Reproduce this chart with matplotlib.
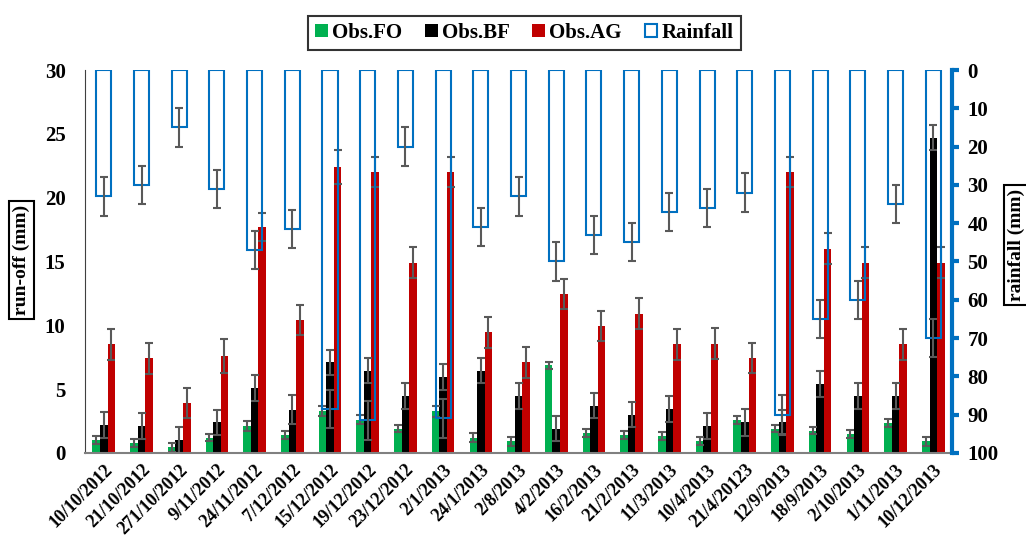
import numpy as np
import matplotlib
matplotlib.use("Agg")
import matplotlib.pyplot as plt

# data
dates = ['10/10/2012', '21/10/2012', '271/10/2012', '9/11/2012', '24/11/2012',
         '7/12/2012', '15/12/2012', '19/12/2012', '23/12/2012', '2/1/2013',
         '24/1/2013', '2/8/2013', '4/2/2013', '16/2/2013', '21/2/2013',
         '11/3/2013', '10/4/2013', '21/4/20123', '12/9/2013', '18/9/2013',
         '2/10/2013', '1/11/2013', '10/12/2013']

obs_fo = [1.0, 0.8, 0.45, 1.2, 2.1, 1.4, 3.3, 2.6, 1.9, 3.25, 1.2, 0.9,
          6.85, 1.55, 1.4, 1.35, 0.95, 2.6, 1.9, 1.75, 1.5, 2.35, 0.9]
obs_bf = [2.2, 2.1, 1.0, 2.4, 5.1, 3.4, 7.1, 6.45, 4.45, 5.95, 6.45, 4.45,
          1.9, 3.7, 3.0, 3.45, 2.1, 2.4, 2.4, 5.4, 4.45, 4.45, 24.7]
obs_ag = [8.5, 7.4, 3.9, 7.6, 17.7, 10.4, 22.4, 22.0, 14.9, 22.0, 9.45, 7.1,
          12.45, 9.95, 10.9, 8.5, 8.55, 7.45, 22.0, 16.0, 14.9, 8.5, 14.9]
rain = [33, 30, 15, 31, 47, 41.5, 88.5, 91.5, 20, 91, 41, 33,
        50, 43, 45, 37, 36, 32, 90, 65, 60, 35, 70]

# error bars
fo_err = [0.3, 0.3, 0.35, 0.3, 0.4, 0.3, 0.4, 0.35, 0.3, 0.4, 0.35, 0.35,
          0.3, 0.3, 0.3, 0.3, 0.3, 0.3, 0.3, 0.3, 0.3, 0.3, 0.35]
bf_err = [1.0, 1.0, 1.0, 1.0, 1.0, 1.1, 1.0, 1.0, 1.0, 1.0, 1.0, 1.0,
          1.0, 1.0, 1.0, 1.0, 1.0, 1.05, 1.0, 1.05, 1.0, 1.0, 1.0]
ag_err = [1.2, 1.2, 1.15, 1.3, 1.1, 1.2, 1.3, 1.2, 1.2, 1.2, 1.2, 1.2,
          1.15, 1.2, 1.2, 1.2, 1.2, 1.2, 1.2, 1.2, 1.2, 1.2, 1.2]
rain_err = [5] * len(rain)

plt.rcParams['font.family'] = ['Liberation Serif', 'DejaVu Serif']
plt.rcParams['font.weight'] = 'bold'

green = '#00B050'
red = '#C00000'
blue = '#0070C0'
errc = '#595959'

x = np.arange(len(dates))
w = 0.2
ekw = dict(ecolor=errc, elinewidth=1.5, capsize=3, capthick=1.5)

fig = plt.figure(figsize=(10.26, 5.47), dpi=100)
ax = fig.add_axes([0.0828, 0.172, 0.8452, 0.700])

b1 = ax.bar(x - w, obs_fo, w, color=green, yerr=fo_err, error_kw=ekw, label='Obs.FO')
b2 = ax.bar(x, obs_bf, w, color='black', yerr=bf_err, error_kw=ekw, label='Obs.BF')
b3 = ax.bar(x + w, obs_ag, w, color=red, yerr=ag_err, error_kw=ekw, label='Obs.AG')

ax.set_xlim(-0.5, len(dates) - 0.5)
ax.set_ylim(0, 30)
ax.set_yticks([0, 5, 10, 15, 20, 25, 30])
ax.set_xticks(x)
ax.set_xticklabels(dates, rotation=45, ha='right', rotation_mode='anchor',
                   fontsize=13, fontweight='bold')
ax.tick_params(axis='both', length=0, labelsize=15)
ax.tick_params(axis='x', pad=6, labelsize=13)
ax.tick_params(axis='y', pad=14)
for s in ['top', 'right']:
    ax.spines[s].set_visible(False)
ax.spines['left'].set_color('#404040')
ax.spines['bottom'].set_color('#808080')
ax.spines['bottom'].set_linewidth(1.5)

ax.set_ylabel('run-off (mm)', fontsize=14, fontweight='bold',
              bbox=dict(boxstyle='square,pad=0.2', fc='white', ec='black', lw=1.5))
ax.yaxis.set_label_coords(-0.063, 0.504)

# rainfall on an inverted secondary axis
ax2 = ax.twinx()
b4 = ax2.bar(x, rain, 0.4, fill=False, edgecolor=blue, linewidth=1.5,
             yerr=rain_err, error_kw=ekw, label='Rainfall')
ax2.set_ylim(100, 0)
ax2.set_yticks(np.arange(0, 101, 10))
ax2.tick_params(axis='y', direction='out', length=5, width=3, color=blue,
                labelsize=15, pad=6)
for s in ['top', 'left', 'bottom']:
    ax2.spines[s].set_visible(False)
ax2.spines['right'].set_color(blue)
ax2.spines['right'].set_linewidth(3)
ax2.set_ylabel('rainfall (mm)', fontsize=14, fontweight='bold', rotation=90,
               bbox=dict(boxstyle='square,pad=0.2', fc='white', ec='black', lw=1.5))
ax2.yaxis.set_label_coords(1.064, 0.543)

fig.legend([b1, b2, b3, b4], ['Obs.FO', 'Obs.BF', 'Obs.AG', 'Rainfall'],
           loc='center', bbox_to_anchor=(0.511, 0.940), ncol=4, fontsize=15,
           frameon=True, fancybox=False, edgecolor='black',
           handlelength=0.6, handleheight=0.6, handletextpad=0.2,
           columnspacing=1.1, borderpad=0.35)
fig.legends[0].get_frame().set_linewidth(1.5)

plt.savefig('out.png', dpi=100)
